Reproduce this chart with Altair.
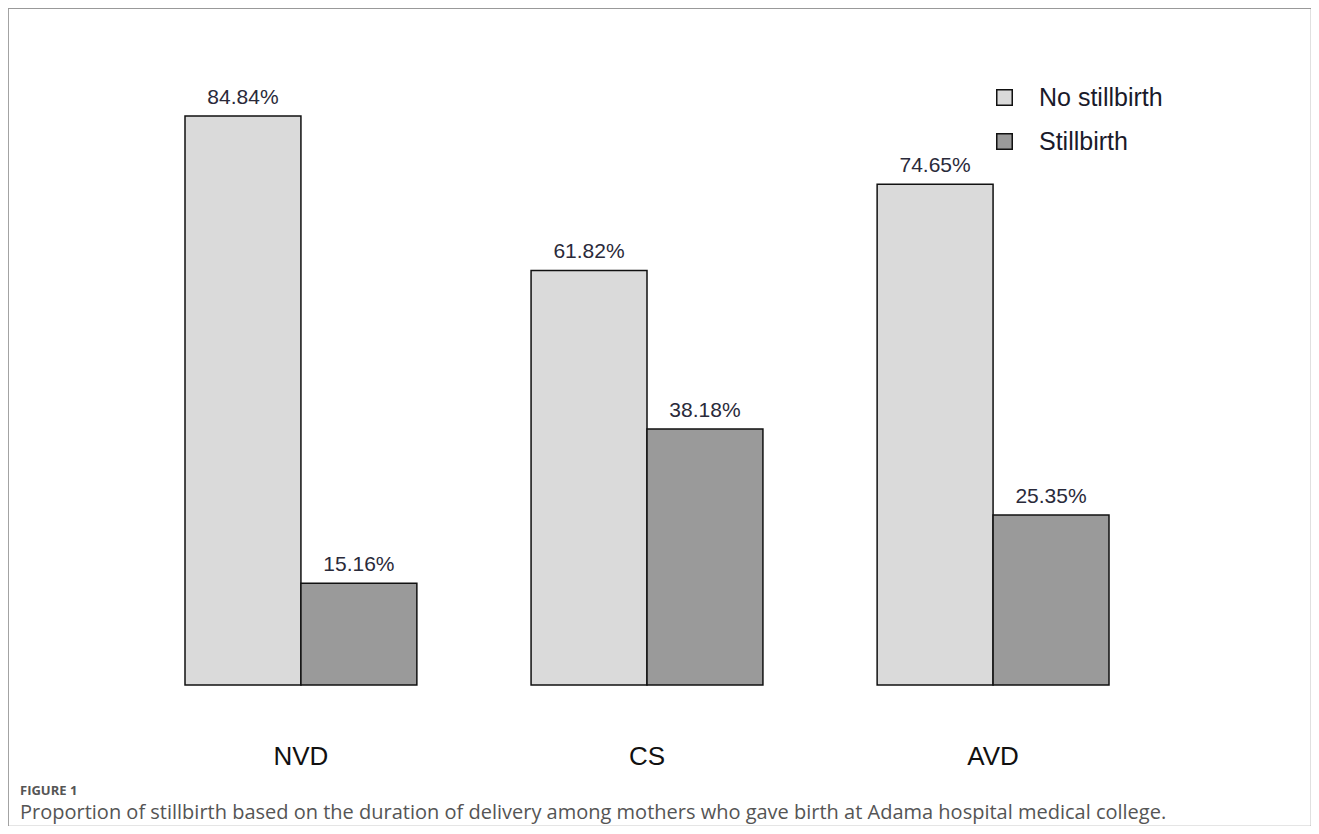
import altair as alt
import pandas as pd

groups = ["NVD", "CS", "AVD"]
types = ["No stillbirth", "Stillbirth"]
no_still = [84.84, 61.82, 74.65]
still = [15.16, 38.18, 25.35]
fig_label = "FIGURE 1"
caption = ("Proportion of stillbirth based on the duration of delivery among mothers "
           "who gave birth at Adama hospital medical college.")

rows = []
for g, a, b in zip(groups, no_still, still):
    rows.append({"group": g, "type": types[0], "value": a, "label": f"{a:.2f}%"})
    rows.append({"group": g, "type": types[1], "value": b, "label": f"{b:.2f}%"})
df = pd.DataFrame(rows)
gdf = pd.DataFrame({"group": groups})
cdf = pd.DataFrame({"fig": [fig_label], "cap": [caption]})

W, H = 1303, 818
FONT = "Liberation Sans"

xscale = alt.Scale(domain=groups, range=[177, 1101], paddingInner=0.33, paddingOuter=0)
yscale = alt.Scale(domain=[-21.02, 100.94], nice=False, zero=False)
offscale = alt.Scale(domain=types, paddingInner=0, paddingOuter=0)
cscale = alt.Scale(domain=types, range=["#dadada", "#9a9a9a"])

x = alt.X("group:N", scale=xscale, axis=None, sort=groups)
xo = alt.XOffset("type:N", scale=offscale, sort=types)
y = alt.Y("value:Q", scale=yscale, axis=None)

bars = alt.Chart(df).mark_bar(stroke="#111111", strokeWidth=1.5).encode(
    x=x, xOffset=xo, y=y, y2=alt.datum(0),
    color=alt.Color("type:N", scale=cscale, legend=alt.Legend(
        orient="none", legendX=984, legendY=77, title=None,
        symbolType="square", symbolSize=240, symbolStrokeColor="#111111",
        symbolStrokeWidth=1.5, symbolOpacity=1, labelFont=FONT, labelFontSize=25,
        labelColor="#1a1a2a", rowPadding=18, labelOffset=22, padding=0)),
)

labels = alt.Chart(df).mark_text(
    baseline="bottom", dy=-8, font=FONT, fontSize=21, color="#2a2a3a"
).encode(x=x, xOffset=xo, y=y, text="label:N")

glabels = alt.Chart(gdf).mark_text(
    baseline="middle", font=FONT, fontSize=26, color="#111111"
).encode(x=x, y=alt.value(749), text="group:N")

figlab = alt.Chart(cdf).mark_text(
    align="left", baseline="middle", font="Open Sans", fontSize=13,
    fontWeight="bold", color="#555555"
).encode(x=alt.value(12), y=alt.value(783), text="fig:N")

cap = alt.Chart(cdf).mark_text(
    align="left", baseline="middle", font="Open Sans", fontSize=20, color="#555555"
).encode(x=alt.value(12), y=alt.value(805), text="cap:N")

chart = alt.layer(bars, labels, glabels, figlab, cap).properties(
    width=W, height=H, padding=0
).configure_view(stroke="#999999", strokeWidth=1.2)

chart.save("out.html", embed_options={"renderer": "svg", "actions": False})
